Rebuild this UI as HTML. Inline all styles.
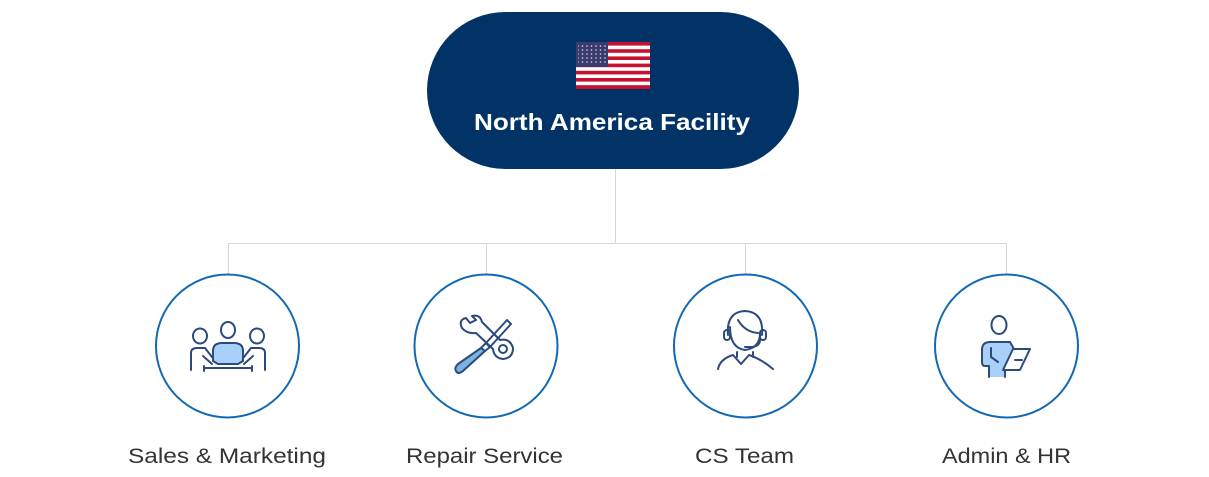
<!DOCTYPE html>
<html><head><meta charset="utf-8"><style>
html,body{margin:0;padding:0;background:#fff;}
svg{display:block;}
text{font-family:"Liberation Sans",sans-serif;}
</style></head><body>
<svg width="1209" height="477" viewBox="0 0 1209 477" xmlns="http://www.w3.org/2000/svg">
<defs><pattern id="st" width="4.5" height="4" patternUnits="userSpaceOnUse"><circle cx="2" cy="2" r="0.8" fill="#fff"/></pattern></defs>
<rect x="427" y="12" width="372" height="157" rx="78.5" fill="#023366"/>
<g>
<rect x="576" y="42" width="74" height="47" fill="#fff"/>
<g fill="#c8102e">
<rect x="576" y="42" width="74" height="3.6"/><rect x="576" y="49.2" width="74" height="3.6"/><rect x="576" y="56.4" width="74" height="3.6"/><rect x="576" y="63.6" width="74" height="3.6"/><rect x="576" y="70.8" width="74" height="3.6"/><rect x="576" y="78" width="74" height="3.6"/><rect x="576" y="85.2" width="74" height="3.8"/>
</g>
<rect x="576" y="42" width="32" height="25" fill="#3c3b6e"/>
<rect x="578" y="44" width="28" height="21" fill="url(#st)" opacity="0.8"/>
</g>
<text x="474" y="130" fill="#fff" font-size="23" font-weight="bold" textLength="276" lengthAdjust="spacingAndGlyphs">North America Facility</text>
<g stroke="#d6d6d6" stroke-width="1" fill="none">
<line x1="615.5" y1="169" x2="615.5" y2="243.5"/>
<line x1="228" y1="243.5" x2="1006" y2="243.5"/>
<line x1="228.5" y1="243" x2="228.5" y2="275"/>
<line x1="486.5" y1="243" x2="486.5" y2="275"/>
<line x1="745.5" y1="243" x2="745.5" y2="275"/>
<line x1="1006.5" y1="243" x2="1006.5" y2="275"/>
</g>
<g fill="none" stroke="#1268b3" stroke-width="2">
<circle cx="227.5" cy="346" r="71.5"/>
<circle cx="486" cy="346" r="71.5"/>
<circle cx="745.5" cy="346" r="71.5"/>
<circle cx="1006.5" cy="346" r="71.5"/>
</g>
<g stroke="#2c4a7c" stroke-width="2" fill="none" stroke-linecap="round">
<ellipse cx="200" cy="336" rx="7" ry="7.5"/>
<ellipse cx="228" cy="330" rx="7" ry="8"/>
<ellipse cx="257" cy="336" rx="7" ry="7.5"/>
<path d="M191 370 V353 Q191 348 197 348 H205 L212 357" />
<path d="M265 370 V353 Q265 348 259 348 H251 L244 357"/>
<path d="M212 364 L203 356 M244 364 L253 356"/>
<path d="M213 361 V351 Q213 343 222 343 H234 Q243 343 243 351 V361 L238 364 H218 Z" fill="#a8d0f8"/>
<path d="M204 368 H252 M204 366 V371 M252 366 V371"/>
</g>
<g stroke="#2c4a7c" stroke-width="2" fill="none" stroke-linecap="round" stroke-linejoin="round">
<path d="M462 328 Q458 320 466 318 L470 323 L476 320 L472 316 Q480 314 482 322 L500 340 Q510 338 513 348 Q513 358 503 359 Q494 358 493 349 L476 333 Q467 334 462 328 Z"/>
<circle cx="503" cy="349" r="4"/>
<path d="M507 320 L511 324 L490 347 L486 343 Z"/>
<path d="M486 343 L490 347 L485 351 L481 348 Z"/>
<path d="M481 348 L485 351 L463 371 Q458 375 456 371 Q454 368 458 364 Z" fill="#7ab2e0"/>
</g>
<g stroke="#2c4a7c" stroke-width="2" fill="none" stroke-linecap="round" stroke-linejoin="round">
<path d="M728 335 Q726 312 745 311 Q764 312 762 335"/>
<path d="M738 320 Q745 332 758 333"/>
<path d="M730 327 Q730 348 745 350 Q760 348 760 333"/>
<rect x="724" y="330" width="6" height="10" rx="3"/>
<rect x="760" y="330" width="6" height="10" rx="3"/>
<path d="M760 340 Q760 346 752 347 H745"/>
<path d="M718 369 Q720 359 733 355 L741 364 L749 355 Q761 359 773 369"/>
<path d="M737 352 V357 M753 352 V357"/>
</g>
<g stroke="#2c4a7c" stroke-width="2" fill="none" stroke-linecap="round" stroke-linejoin="round">
<ellipse cx="999" cy="325" rx="7.5" ry="9"/>
<path d="M989 377 V366 H985 Q982 366 982 362 V350 Q982 342 990 342 H1010 L1014 349 L1005 366 V377" fill="#a8d0f8"/>
<path d="M991 348 V357 L998 362"/>
<path d="M1003 370 L1013 349 H1030 L1020 370 Z" fill="#fff"/>
<path d="M1015 360 H1022"/>
</g>
<g font-size="21" fill="#333">
<text x="128" y="463" textLength="198" lengthAdjust="spacingAndGlyphs">Sales &amp; Marketing</text>
<text x="406" y="463" textLength="157" lengthAdjust="spacingAndGlyphs">Repair Service</text>
<text x="695" y="463" textLength="99" lengthAdjust="spacingAndGlyphs">CS Team</text>
<text x="942" y="463" textLength="129" lengthAdjust="spacingAndGlyphs">Admin &amp; HR</text>
</g>
</svg>
</body></html>
